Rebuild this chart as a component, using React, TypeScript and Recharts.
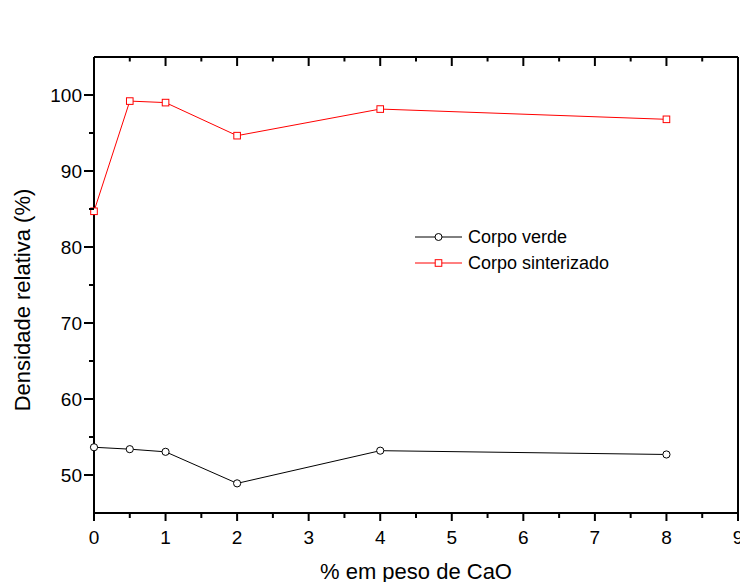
import React from 'react';
import { LineChart, Line, XAxis, YAxis } from 'recharts';

// % em peso de CaO
const caO = [0, 0.5, 1, 2, 4, 8];
const corpoVerde = [53.65, 53.4, 53.05, 48.9, 53.2, 52.7];
const corpoSinterizado = [84.7, 99.2, 99.0, 94.65, 98.15, 96.8];

const xTicks = [0, 0.5, 1, 1.5, 2, 2.5, 3, 3.5, 4, 4.5, 5, 5.5, 6, 6.5, 7, 7.5, 8, 8.5, 9];
const yTicks = [50, 55, 60, 65, 70, 75, 80, 85, 90, 95, 100];

const data = caO.map((c, i) => ({ caO: c, verde: corpoVerde[i], sinterizado: corpoSinterizado[i] }));

const FONT = '"Liberation Sans", Arial, Helvetica, sans-serif';
const MAJOR = 9;
const MINOR = 4.5;

const BottomTick = (props: any) => {
  const { x, y, payload } = props;
  const major = Number.isInteger(payload.value);
  return (
    <g>
      <line x1={x} x2={x} y1={y} y2={y + (major ? 8 : 5)} stroke="#000" strokeWidth={2} />
      {major && (
        <text x={x} y={y + 31} textAnchor="middle" fontSize={19} fontFamily={FONT} fill="#000">
          {payload.value}
        </text>
      )}
    </g>
  );
};

const TopTick = (props: any) => {
  const { x, y, payload } = props;
  const major = Number.isInteger(payload.value);
  return <line x1={x} x2={x} y1={y} y2={y + (major ? MAJOR : MINOR)} stroke="#000" strokeWidth={2} />;
};

const LeftTick = (props: any) => {
  const { x, y, payload } = props;
  const major = payload.value % 10 === 0;
  return (
    <g>
      <line x1={x} x2={x - (major ? 10 : 5)} y1={y} y2={y} stroke="#000" strokeWidth={2} />
      {major && (
        <text x={x - 12} y={y + 7} textAnchor="end" fontSize={19} fontFamily={FONT} fill="#000">
          {payload.value}
        </text>
      )}
    </g>
  );
};

const RightTick = (props: any) => {
  const { x, y, payload } = props;
  const major = payload.value % 10 === 0;
  return <line x1={x} x2={x - (major ? MAJOR : MINOR)} y1={y} y2={y} stroke="#000" strokeWidth={2} />;
};

const SquareDot = (props: any) => {
  const { cx, cy, index } = props;
  if (cx == null || cy == null) return null;
  return <rect key={index} x={cx - 3.3} y={cy - 3.3} width={6.6} height={6.6} fill="#fff" stroke="#ff0000" strokeWidth={1} />;
};

const LegendBox = () => (
  <div style={{ position: 'absolute', left: 415, top: 224, fontFamily: FONT, fontSize: 18, color: '#000', lineHeight: '26px' }}>
    <div style={{ display: 'flex', alignItems: 'center' }}>
      <svg width={48} height={12}>
        <line x1={0} x2={47} y1={6} y2={6} stroke="#000" strokeWidth={1} />
        <circle cx={23.5} cy={6} r={3.5} fill="#fff" stroke="#000" strokeWidth={1} />
      </svg>
      <span style={{ marginLeft: 5 }}>Corpo verde</span>
    </div>
    <div style={{ display: 'flex', alignItems: 'center' }}>
      <svg width={48} height={12}>
        <line x1={0} x2={47} y1={6} y2={6} stroke="#ff0000" strokeWidth={1} />
        <rect x={20.2} y={2.7} width={6.6} height={6.6} fill="#fff" stroke="#ff0000" strokeWidth={1} />
      </svg>
      <span style={{ marginLeft: 5 }}>Corpo sinterizado</span>
    </div>
  </div>
);

export default function App() {
  return (
    <div style={{ position: 'absolute', left: 0, top: 0, width: 740, height: 582, background: '#fff' }}>
      <LineChart width={740} height={582} data={data} margin={{ top: 56, right: 1, bottom: 0, left: 0 }}>
        <XAxis
          dataKey="caO"
          type="number"
          domain={[0, 9]}
          ticks={xTicks}
          interval={0}
          tickLine={false}
          tickSize={0}
          tickMargin={0}
          tick={BottomTick}
          axisLine={{ stroke: '#000', strokeWidth: 2 }}
          height={69}
          label={{
            content: (p: any) => {
              const vb = p.viewBox;
              return (
                <text x={vb.x + vb.width / 2} y={579} textAnchor="middle" fontSize={22} fontFamily={FONT} fill="#000">
                  % em peso de CaO
                </text>
              );
            },
          }}
        />
        <XAxis
          xAxisId="top"
          orientation="top"
          dataKey="caO"
          type="number"
          domain={[0, 9]}
          ticks={xTicks}
          interval={0}
          tickLine={false}
          tickSize={0}
          tickMargin={0}
          tick={TopTick}
          axisLine={{ stroke: '#000', strokeWidth: 2 }}
          height={1}
        />
        <YAxis
          type="number"
          domain={[45, 105]}
          ticks={yTicks}
          interval={0}
          tickLine={false}
          tickSize={0}
          tickMargin={0}
          tick={LeftTick}
          axisLine={{ stroke: '#000', strokeWidth: 2 }}
          width={94}
          label={{
            content: () => (
              <text x={30} y={300} transform="rotate(-90, 30, 300)" textAnchor="middle" fontSize={22} fontFamily={FONT} fill="#000">
                Densidade relativa (%)
              </text>
            ),
          }}
        />
        <YAxis
          yAxisId="right"
          orientation="right"
          type="number"
          domain={[45, 105]}
          ticks={yTicks}
          interval={0}
          tickLine={false}
          tickSize={0}
          tickMargin={0}
          tick={RightTick}
          axisLine={{ stroke: '#000', strokeWidth: 2 }}
          width={1}
        />
        <Line
          dataKey="verde"
          stroke="#000"
          strokeWidth={1}
          dot={{ r: 3.6, fill: '#fff', stroke: '#000', strokeWidth: 1 }}
          isAnimationActive={false}
        />
        <Line
          dataKey="sinterizado"
          stroke="#ff0000"
          strokeWidth={1}
          dot={SquareDot}
          isAnimationActive={false}
        />
      </LineChart>
      <LegendBox />
    </div>
  );
}
